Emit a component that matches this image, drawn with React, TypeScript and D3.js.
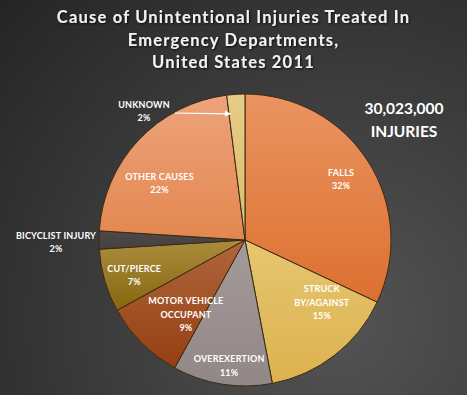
import React, { useRef, useEffect } from "react";
import * as d3 from "d3";

const categories = [
  "FALLS",
  "STRUCK BY/AGAINST",
  "OVEREXERTION",
  "MOTOR VEHICLE OCCUPANT",
  "CUT/PIERCE",
  "BICYCLIST INJURY",
  "OTHER CAUSES",
  "UNKNOWN",
];
const values = [32, 15, 11, 9, 7, 2, 22, 2];
const labelLines = [
  ["FALLS"],
  ["STRUCK", "BY/AGAINST"],
  ["OVEREXERTION"],
  ["MOTOR VEHICLE", "OCCUPANT"],
  ["CUT/PIERCE"],
  ["BICYCLIST INJURY"],
  ["OTHER CAUSES"],
  ["UNKNOWN"],
];
const titleLines = [
  "Cause of Unintentional Injuries Treated In",
  "Emergency Departments,",
  "United States 2011",
];
const totalLines = ["30,023,000", "INJURIES"];

// light (top) / dark (bottom) fill per slice
const colorsTop = ["#ea9460", "#e6c670", "#a39a99", "#b0663c", "#aa8c3c", "#4e4949", "#eda37c", "#e6cc86"];
const colorsBottom = ["#dc7030", "#dcb24e", "#918786", "#943f12", "#87670f", "#454141", "#e3874f", "#dcbc6c"];

// label placement: radius fraction of the pie + nudge
const labelPos = [
  { k: 0.78, dx: 0, dy: 0 },
  { k: 0.68, dx: 16, dy: -16 },
  { k: 0.87, dx: 4, dy: 0 },
  { k: 0.65, dx: 8, dy: 7 },
  { k: 0.79, dx: 0, dy: 3 },
  { k: 1.3, dx: 0, dy: 0 },
  { k: 0.7, dx: -11, dy: 13 },
  { k: 1.0, dx: 0, dy: 0 },
];

const W = 467;
const H = 395;

const App = () => {
  const ref = useRef<SVGSVGElement>(null);

  useEffect(() => {
    document.body.style.margin = "0";
    const svg = d3.select(ref.current);
    svg.selectAll("*").remove();
    svg.attr("width", W).attr("height", H);

    const defs = svg.append("defs");
    const bg = defs
      .append("radialGradient")
      .attr("id", "bg")
      .attr("gradientUnits", "userSpaceOnUse")
      .attr("cx", 340)
      .attr("cy", 320)
      .attr("r", 470);
    bg.append("stop").attr("offset", "0%").attr("stop-color", "#545454");
    bg.append("stop").attr("offset", "100%").attr("stop-color", "#242424");

    const sh = defs.append("filter").attr("id", "sh").attr("x", "-10%").attr("y", "-20%").attr("width", "120%").attr("height", "150%");
    sh.append("feDropShadow")
      .attr("dx", 1)
      .attr("dy", 1)
      .attr("stdDeviation", 0.8)
      .attr("flood-color", "#000")
      .attr("flood-opacity", 0.8);

    defs
      .append("marker")
      .attr("id", "arrow")
      .attr("viewBox", "0 0 10 10")
      .attr("refX", 9)
      .attr("refY", 5)
      .attr("markerWidth", 5)
      .attr("markerHeight", 5)
      .attr("orient", "auto")
      .append("path")
      .attr("d", "M0,0L10,5L0,10z")
      .attr("fill", "#fff");

    categories.forEach((c, i) => {
      const g = defs
        .append("linearGradient")
        .attr("id", "g" + i)
        .attr("x1", 0)
        .attr("y1", 0)
        .attr("x2", 0)
        .attr("y2", 1);
      g.append("stop").attr("offset", "0%").attr("stop-color", colorsTop[i]);
      g.append("stop").attr("offset", "100%").attr("stop-color", colorsBottom[i]);
    });

    svg.append("rect").attr("width", W).attr("height", H).attr("fill", "url(#bg)");

    const cx = 245;
    const cy = 240;
    const r = 146;

    const data = categories.map((c, i) => ({ name: c, value: values[i], i }));
    const pie = d3
      .pie<any>()
      .value((d) => d.value)
      .sort(null);
    const arcs = pie(data);
    const arc = d3.arc<any>().innerRadius(0).outerRadius(r);

    const g = svg.append("g").attr("transform", `translate(${cx},${cy})`);
    g.selectAll("path")
      .data(arcs)
      .join("path")
      .attr("d", arc)
      .attr("fill", (d) => `url(#g${d.data.i})`)
      .attr("stroke", "#3b2a12")
      .attr("stroke-width", 1)
      .attr("stroke-linejoin", "round");

    const font = "Lato, 'Open Sans', sans-serif";

    // slice labels
    arcs.forEach((d) => {
      const i = d.data.i;
      const lp = labelPos[i];
      let x: number, y: number;
      if (d.data.name === "UNKNOWN") {
        x = -101;
        y = -129;
      } else if (d.data.name === "BICYCLIST INJURY") {
        x = -189;
        y = 2;
      } else {
        const la = d3.arc<any>().innerRadius(r * lp.k).outerRadius(r * lp.k);
        const c = la.centroid(d);
        x = c[0] + lp.dx;
        y = c[1] + lp.dy;
      }
      const lines = [...labelLines[i], `${values[i]}%`];
      const lh = 13.5;
      const t = g
        .append("text")
        .attr("text-anchor", "middle")
        .attr("font-family", font)
        .attr("font-weight", 700)
        .attr("font-size", 9)
        .attr("fill", "#fff")
        .attr("letter-spacing", 0.2);
      lines.forEach((l, j) => {
        t.append("tspan")
          .attr("x", x)
          .attr("y", y + (j - (lines.length - 1) / 2) * lh + 3.5)
          .text(l);
      });
      if (d.data.name === "UNKNOWN") {
        // arrow tip on the slice's leading edge
        const rr = r * 0.87;
        const a = d.startAngle + 0.01;
        const px = rr * Math.sin(a);
        const py = -rr * Math.cos(a);
        g.append("line")
          .attr("x1", x + 31)
          .attr("y1", y + 2)
          .attr("x2", px)
          .attr("y2", py)
          .attr("stroke", "#fff")
          .attr("stroke-width", 1.2)
          .attr("marker-end", "url(#arrow)");
      }
    });

    // title
    const title = svg
      .append("text")
      .attr("text-anchor", "middle")
      .attr("font-family", font)
      .attr("font-weight", 700)
      .attr("font-size", 16.5)
      .attr("fill", "#f2f2f2")
      .attr("letter-spacing", 1.2)
      .attr("filter", "url(#sh)");
    titleLines.forEach((l, j) => {
      title
        .append("tspan")
        .attr("x", W / 2)
        .attr("y", 23 + j * 22.5)
        .text(l);
    });

    const total = svg
      .append("text")
      .attr("text-anchor", "middle")
      .attr("font-family", font)
      .attr("font-weight", 700)
      .attr("font-size", 15.5)
      .attr("fill", "#fff");
    totalLines.forEach((l, j) => {
      total
        .append("tspan")
        .attr("x", 404)
        .attr("y", 114 + j * 22.5)
        .text(l);
    });
  }, []);

  return (
    <div>
      <svg ref={ref} style={{ display: "block" }}></svg>
    </div>
  );
};

export default App;
